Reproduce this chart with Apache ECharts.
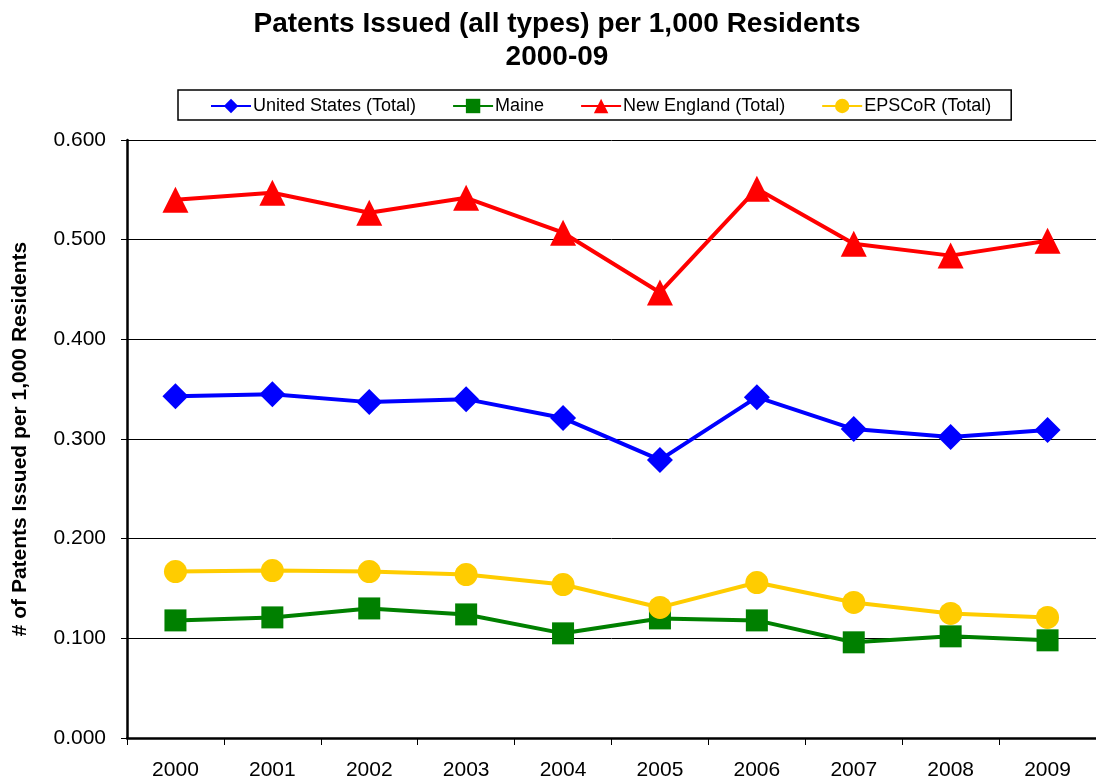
<!DOCTYPE html>
<html>
<head>
<meta charset="utf-8">
<script src="https://cdn.jsdelivr.net/npm/echarts@6/dist/echarts.min.js"></script>
<style>
  html, body { margin: 0; padding: 0; background: #fff; }
  #chart { width: 1096px; height: 784px; }
</style>
</head>
<body>
<div id="chart"></div>
<script>
// years along the x axis
const years = ['2000', '2001', '2002', '2003', '2004', '2005', '2006', '2007', '2008', '2009'];
// patents per 1,000 residents
const usTotal = [0.343, 0.345, 0.337, 0.340, 0.321, 0.279, 0.342, 0.310, 0.302, 0.309];
const maine = [0.118, 0.121, 0.130, 0.124, 0.105, 0.120, 0.118, 0.096, 0.102, 0.098];
const newEngland = [0.540, 0.547, 0.527, 0.542, 0.507, 0.447, 0.551, 0.496, 0.484, 0.499];
const epscor = [0.167, 0.168, 0.167, 0.164, 0.154, 0.131, 0.156, 0.136, 0.125, 0.121];

const chart = echarts.init(document.getElementById('chart'));

function line(name, data, color, symbol, size) {
  return {
    name: name,
    type: 'line',
    data: data,
    symbol: symbol,
    symbolSize: size,
    lineStyle: { color: color, width: 4 },
    itemStyle: { color: color },
    animation: false
  };
}

const option = {
  backgroundColor: '#fff',
  textStyle: { fontFamily: 'Liberation Sans, Arial, sans-serif' },
  title: {
    text: 'Patents Issued (all types) per 1,000 Residents\n2000-09',
    left: 552,
    textAlign: 'center',
    top: 3,
    textStyle: { fontSize: 28, fontWeight: 'bold', color: '#000', lineHeight: 33 }
  },
  legend: {
    data: ['United States (Total)', 'Maine', 'New England (Total)', 'EPSCoR (Total)'],
    left: 178,
    top: 90,
    width: 837,
    padding: [7, 20, 5, 32],
    itemGap: 36,
    itemWidth: 40,
    itemHeight: 18,
    borderColor: '#000',
    borderWidth: 1.5,
    textStyle: { fontSize: 18, color: '#000', padding: [0, 0, 0, -3] }
  },
  grid: { left: 127, right: -4, top: 140, bottom: 46 },
  xAxis: {
    type: 'category',
    data: years,
    boundaryGap: true,
    axisLine: { lineStyle: { color: '#000', width: 2.5 } },
    axisTick: { show: true, length: 7, lineStyle: { color: '#000', width: 1 } },
    axisLabel: { fontSize: 21, color: '#000', margin: 22 }
  },
  yAxis: {
    type: 'value',
    min: 0,
    max: 0.6,
    interval: 0.1,
    name: '# of Patents Issued per 1,000 Residents',
    nameLocation: 'middle',
    nameGap: 96,
    nameTextStyle: { fontSize: 21, fontWeight: 'bold', color: '#000' },
    axisLine: { show: true, lineStyle: { color: '#000', width: 2.5 } },
    axisTick: { show: true, length: 6, lineStyle: { color: '#000' } },
    axisLabel: { fontSize: 21, color: '#000', margin: 21, formatter: v => v.toFixed(3) },
    splitLine: { lineStyle: { color: '#000', width: 1 } }
  },
  series: [
    line('United States (Total)', usTotal, '#0000ff', 'diamond', 26),
    line('Maine', maine, '#008000', 'rect', 22),
    line('New England (Total)', newEngland, '#ff0000', 'triangle', 26),
    line('EPSCoR (Total)', epscor, '#ffcc00', 'circle', 23)
  ]
};

chart.setOption(option);
</script>
</body>
</html>
